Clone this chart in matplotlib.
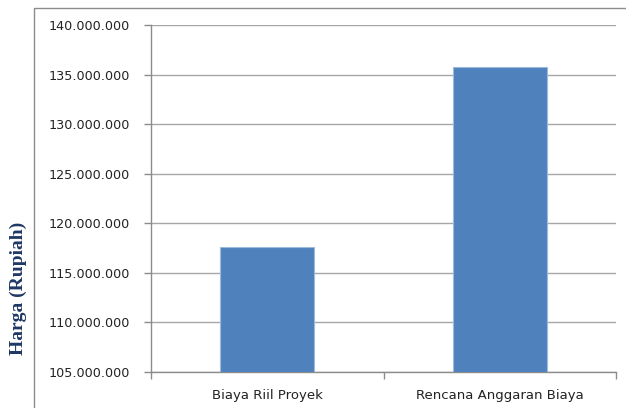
import matplotlib
matplotlib.use("Agg")
import matplotlib.pyplot as plt
from matplotlib.patches import Rectangle
from matplotlib.ticker import FuncFormatter, FixedLocator

categories = ["Biaya Riil Proyek", "Rencana Anggaran Biaya"]
values = [117600000, 135800000]
yticks = [105000000, 110000000, 115000000, 120000000, 125000000, 130000000, 135000000, 140000000]

W, H = 626, 408
fig = plt.figure(figsize=(W / 100, H / 100), dpi=100)
fig.patch.set_facecolor("white")

# outer chart border
fig.patches.append(Rectangle((34 / W, -0.1), 1.2, (H - 8) / H + 0.1, transform=fig.transFigure,
                             fill=False, edgecolor="#8C8C8C", linewidth=1.0))

ax = fig.add_axes([151 / W, (H - 372) / H, (616 - 151) / W, (372 - 25) / H])
x = [0.5 + i for i in range(len(categories))]
ax.bar(x, values, width=0.405, color="#4F81BD", edgecolor="#9DB9DC", linewidth=0.8, zorder=3)

ax.set_xlim(0, len(categories))
ax.set_ylim(105000000, 140000000)
ax.set_yticks(yticks)
ax.yaxis.set_major_formatter(FuncFormatter(lambda v, p: f"{int(v):,}".replace(",", ".")))
ax.grid(axis="y", color="#A6A6A6", linewidth=1.0, zorder=0)

ax.xaxis.set_major_locator(FixedLocator([0, 1, 2]))
ax.xaxis.set_major_formatter(FuncFormatter(lambda v, p: ""))
ax.xaxis.set_minor_locator(FixedLocator(x))
ax.set_xticklabels(categories, minor=True)
ax.tick_params(axis="x", which="minor", length=0, pad=12.5, labelsize=9.5, labelcolor="#222222")
ax.tick_params(axis="x", which="major", length=5, color="#8C8C8C", width=1)
ax.tick_params(axis="y", length=5, color="#8C8C8C", width=1, labelsize=9.2, labelcolor="#222222", pad=10)

for s in ["top", "right"]:
    ax.spines[s].set_visible(False)
for s in ["left", "bottom"]:
    ax.spines[s].set_color("#8C8C8C")
    ax.spines[s].set_linewidth(1.0)

fig.text(18 / W, (H - 288) / H, "Harga (Rupiah)", rotation=90, ha="center", va="center",
         family="Liberation Serif", fontweight="bold", fontsize=14, color="#1F3864")

fig.savefig("out.png", dpi=100)
